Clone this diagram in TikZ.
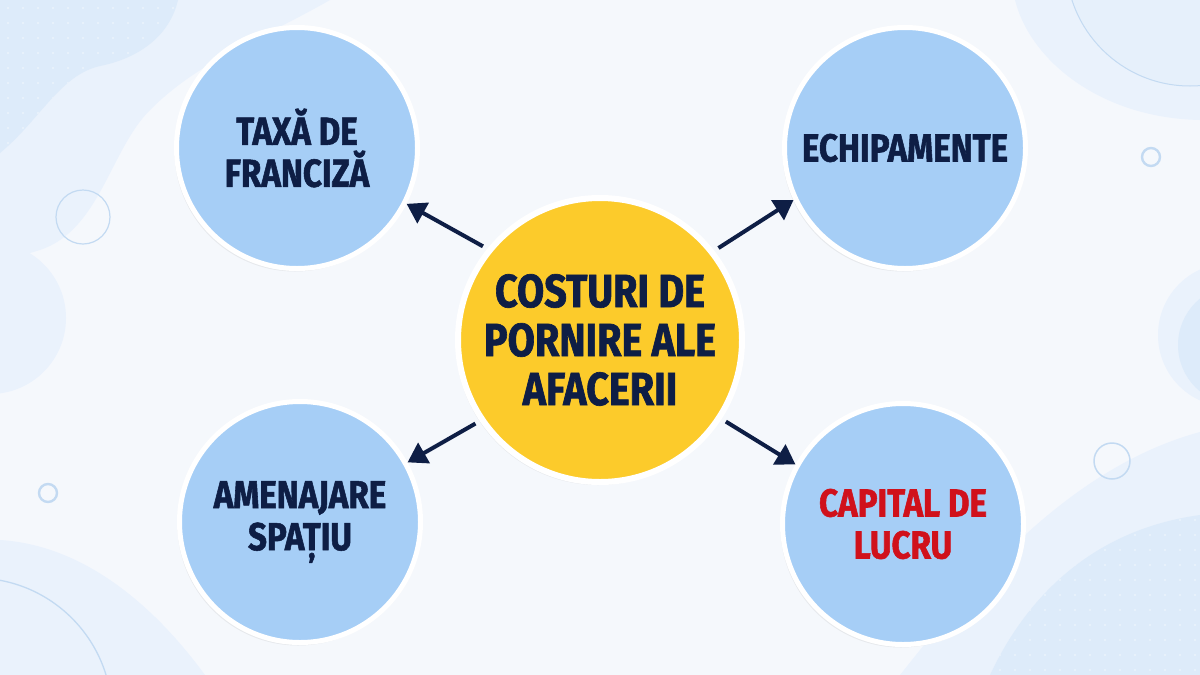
\documentclass[tikz,border=0pt]{standalone}
\usepackage{fontspec}
\newfontfamily\lblfont[FakeStretch=0.85,FakeBold=1.4]{Fira Sans}
\usetikzlibrary{arrows.meta,shadows}
\definecolor{bg}{HTML}{F5F8FC}
\definecolor{blobA}{HTML}{EAF2FC}
\definecolor{blobB}{HTML}{DDEBFA}
\definecolor{blobC}{HTML}{D3E6F9}
\definecolor{ringc}{HTML}{C3DAF2}
\definecolor{bubblefill}{HTML}{A6CEF6}
\definecolor{coreyellow}{HTML}{FCCB2B}
\definecolor{navy}{HTML}{0E1E45}
\definecolor{redtext}{HTML}{D0111B}
\tikzset{
  bubble/.style={circle, fill=bubblefill, draw=white, line width=5pt,
    minimum size=241pt, inner sep=0pt, align=center, text=navy,
    drop shadow={opacity=0.12, shadow xshift=-2pt, shadow yshift=-3pt},
    font=\lblfont\bfseries\fontsize{39}{42}\selectfont},
  core/.style={circle, fill=coreyellow, draw=white, line width=6pt,
    minimum size=284pt, inner sep=0pt, align=center, text=navy,
    drop shadow={opacity=0.12, shadow xshift=-2pt, shadow yshift=-3pt},
    font=\lblfont\bfseries\fontsize{46.5}{49}\selectfont},
  arr/.style={draw=navy, line width=4pt, -{Triangle[length=19pt,width=23pt]}},
  ring/.style={draw=ringc}
}
\begin{document}
\begin{tikzpicture}[x=1pt,y=-1pt]
\useasboundingbox (0,0) rectangle (1200,675);
\fill[bg] (0,0) rectangle (1200,675);
\begin{scope}
\clip (0,0) rectangle (1200,675);
% top-left layers
\fill[blobA] (0,0) -- (330,0) .. controls (260,40) and (200,60) .. (150,110)
  .. controls (110,150) and (100,230) .. (40,250) -- (0,262) -- cycle;
\fill[blobB] (0,0) -- (178,0) .. controls (170,35) and (140,58) .. (100,66)
  .. controls (60,75) and (40,120) .. (0,153) -- cycle;
\begin{scope}
\clip (0,0) -- (178,0) .. controls (170,35) and (140,58) .. (100,66)
  .. controls (60,75) and (40,120) .. (0,153) -- cycle;
\foreach \i in {0,...,11}{\foreach \j in {0,...,9}{
  \fill[white,opacity=0.35] (8+\i*15,8+\j*15) circle (1.3);}}
\end{scope}
% left blob
\fill[blobA] (-10,318) circle (76);
% bottom-left
\fill[blobA] (0,540) .. controls (80,545) and (150,600) .. (205,675) -- (0,675) -- cycle;
\draw[ringc, line width=1.3pt] (-25,715) circle (137);
% top-right
\fill[blobA] (1015,0) .. controls (1030,60) and (1100,118) .. (1200,120) -- (1200,0) -- cycle;
\fill[blobA!70!blobB] (1190,-38) circle (124);
\draw[ringc, line width=1pt] (1190,-38) circle (124);
% right middle
\fill[blobA] (1230,335) circle (72);
\fill[blobB] (1238,345) circle (60);
% bottom-right
\fill[blobA] (900,675) .. controls (960,600) and (1060,470) .. (1200,432) -- (1200,675) -- cycle;
\fill[blobB] (990,675) .. controls (1025,600) and (1090,530) .. (1200,515) -- (1200,675) -- cycle;
\begin{scope}
\clip (990,675) .. controls (1025,600) and (1090,530) .. (1200,515) -- (1200,675) -- cycle;
\foreach \i in {0,...,14}{\foreach \j in {0,...,11}{
  \fill[white,opacity=0.35] (985+\i*15,505+\j*15) circle (1.3);}}
\end{scope}
% small rings
\draw[ring, line width=1.2pt] (83,217) circle (27);
\draw[ring, line width=2.4pt] (48,493) circle (9);
\draw[ring, line width=2.4pt] (1151,157) circle (9);
\draw[ring, line width=1.5pt] (1112,461) circle (18);
\end{scope}

\node[bubble] (tl) at (297,148) {TAXĂ DE\\FRANCIZĂ};
\node[bubble] (tr) at (905,148) {ECHIPAMENTE};
\node[bubble] (bl) at (300,522) {AMENAJARE\\SPAȚIU};
\node[bubble, text=redtext] (br) at (903,524) {CAPITAL DE\\LUCRU};
\node[core] (c) at (600,340) {COSTURI DE\\PORNIRE ALE\\AFACERII};

\draw[arr, shorten <=5pt] (c.141) -- (tl.-27);
\draw[arr, shorten <=5pt] (c.38) -- (tr.-155);
\draw[arr, shorten <=5pt] (c.214) -- (bl.29);
\draw[arr, shorten <=5pt] (c.-33.5) -- (br.151);
\end{tikzpicture}
\end{document}
